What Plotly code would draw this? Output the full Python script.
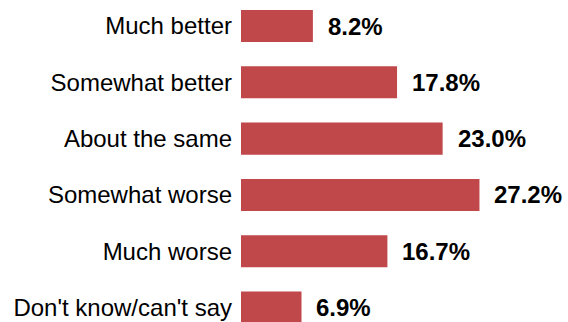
import plotly.graph_objects as go

categories = ["Much better", "Somewhat better", "About the same", "Somewhat worse", "Much worse", "Don't know/can't say"]
values = [8.2, 17.8, 23.0, 27.2, 16.7, 6.9]
value_labels = ["8.2%", "17.8%", "23.0%", "27.2%", "16.7%", "6.9%"]

bar_color = "#C0474A"
font_family = "Liberation Sans, Arial, sans-serif"

fig = go.Figure()
fig.add_trace(go.Bar(
    x=values,
    y=categories,
    orientation="h",
    marker=dict(color=bar_color, line=dict(width=0)),
    width=0.57,
    hoverinfo="skip",
))

for cat, v, lab in zip(categories, values, value_labels):
    fig.add_annotation(
        x=v, y=cat, text="<b>" + lab + "</b>",
        xanchor="left", yanchor="middle", xshift=13,
        showarrow=False,
        font=dict(family=font_family, size=24, color="#000000"),
    )

fig.update_layout(
    width=568, height=322,
    margin=dict(l=241, r=0, t=0, b=0),
    paper_bgcolor="white", plot_bgcolor="white",
    showlegend=False,
    xaxis=dict(range=[0, 37.3], visible=False, fixedrange=True),
    yaxis=dict(
        type="category",
        range=[5.257, -0.462],
        showgrid=False, zeroline=False, showline=False,
        ticks="", ticklabelstandoff=8,
        tickfont=dict(family=font_family, size=24, color="#000000"),
        fixedrange=True,
    ),
)

fig.write_html("out.html")
